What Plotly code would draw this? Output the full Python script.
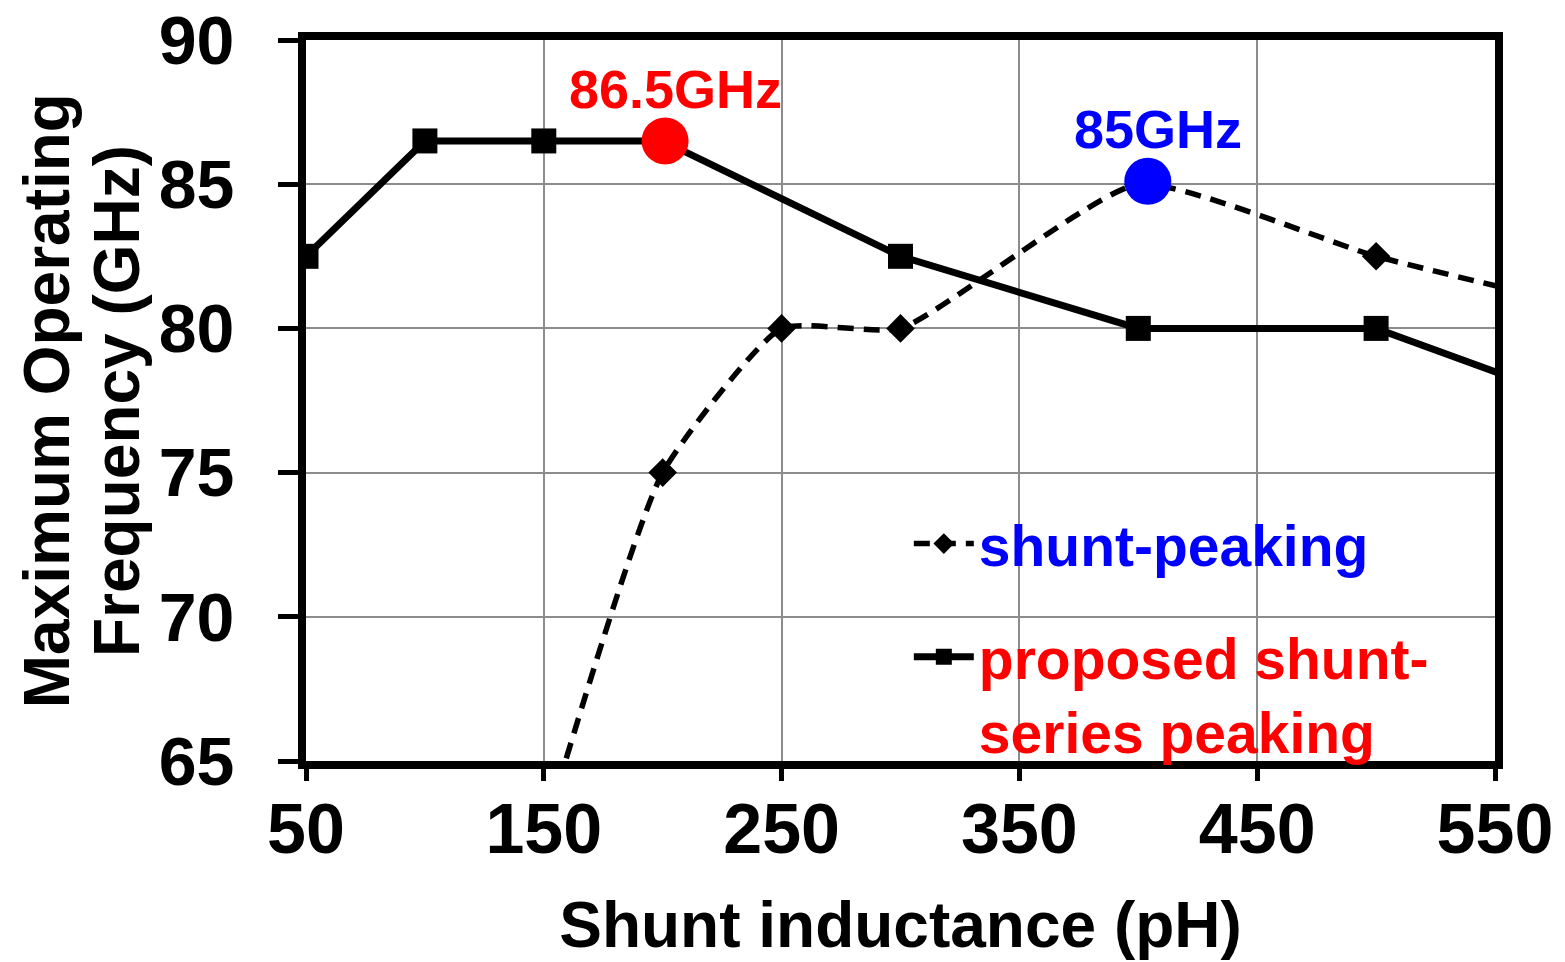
import plotly.graph_objects as go

# Data
shunt_x = [150, 200, 250, 300, 400, 500, 600]
shunt_y = [62.5, 75, 80, 80, 85, 82.5, 80.5]
prop_x = [50, 100, 150, 200, 300, 400, 500, 600]
prop_y = [82.5, 86.5, 86.5, 86.5, 82.5, 80, 80, 77]
peak_x = [201, 404]
peak_y = [86.5, 85.1]
peak_labels = ["86.5GHz", "85GHz"]
peak_colors = ["#ff0000", "#0000ff"]
x_ticks = [50, 150, 250, 350, 450, 550]
y_ticks = [65, 70, 75, 80, 85, 90]
y_title_lines = ["Maximum Operating", "Frequency (GHz)"]

FONT = "Liberation Sans, Arial, sans-serif"

fig = go.Figure()
fig.add_trace(go.Scatter(
    x=shunt_x, y=shunt_y, mode="lines+markers",
    name="<b><span style='color:#0000ff'>shunt-peaking</span></b>",
    legendgroup="a",
    line=dict(color="black", width=5.5, dash="16px,10px", shape="spline", smoothing=0.5),
    marker=dict(symbol="diamond", size=22, color="black"),
))
fig.add_trace(go.Scatter(
    x=prop_x, y=prop_y, mode="lines+markers",
    name="<b><span style='color:#ff0000'>proposed shunt-<br>series peaking</span></b>",
    legendgroup="b",
    line=dict(color="black", width=7),
    marker=dict(symbol="square", size=25, color="black"),
))
fig.add_trace(go.Scatter(
    x=peak_x, y=peak_y, mode="markers", showlegend=False,
    marker=dict(symbol="circle", size=47, color=peak_colors),
))
for xv, yv, t, c in zip(peak_x, peak_y, peak_labels, peak_colors):
    fig.add_annotation(x=xv, y=yv, text=f"<b>{t}</b>", showarrow=False,
                       yshift=52, xshift=10,
                       font=dict(family=FONT, size=54, color=c))

# y-axis title as two rotated lines
for xp, line in zip([-0.218, -0.1594], y_title_lines):
    fig.add_annotation(xref="paper", yref="paper", x=xp, y=0.5, text=f"<b>{line}</b>",
                       textangle=-90, showarrow=False, xanchor="center", yanchor="middle",
                       font=dict(family=FONT, size=64, color="black"))

# white legend box (under traces, above grid)
fig.add_shape(type="rect", xref="paper", yref="paper", x0=0.4715, x1=0.982, y0=0.019, y1=0.338,
              fillcolor="white", line=dict(width=0), layer="between")

fig.update_layout(
    width=1565, height=962,
    margin=dict(l=298, r=78, t=32, b=209, autoexpand=False),
    paper_bgcolor="white", plot_bgcolor="white",
    font=dict(family=FONT, color="black"),
    showlegend=True,
    legend=dict(
        x=0.507, y=0.362, xanchor="left", yanchor="top",
        bgcolor="rgba(0,0,0,0)", font=dict(family=FONT, size=57, color="black"),
        tracegroupgap=36, itemwidth=60, valign="top",
    ),
    xaxis=dict(
        range=[50, 550], tickvals=x_ticks, ticktext=[f"<b>{v}</b>" for v in x_ticks],
        tickfont=dict(family=FONT, size=70, color="black"),
        ticklabelstandoff=-12, automargin=False,
        showgrid=True, gridcolor="#8c8c8c", gridwidth=2,
        showline=True, linecolor="black", linewidth=8, mirror=True,
        ticks="outside", ticklen=12, tickwidth=5, tickcolor="black",
        zeroline=False,
        title=dict(text="<b>Shunt inductance (pH)</b>", font=dict(family=FONT, size=64, color="black"), standoff=38),
    ),
    yaxis=dict(
        range=[65, 90], tickvals=y_ticks, ticktext=[f"<b>{v}</b>" for v in y_ticks],
        tickfont=dict(family=FONT, size=68, color="black"),
        ticklabelstandoff=30, ticklabeloverflow="allow", automargin=False,
        showgrid=True, gridcolor="#8c8c8c", gridwidth=2,
        showline=True, linecolor="black", linewidth=8, mirror=True,
        ticks="outside", ticklen=20, tickwidth=5, tickcolor="black",
        zeroline=False,
    ),
)

fig.write_html("out.html")
